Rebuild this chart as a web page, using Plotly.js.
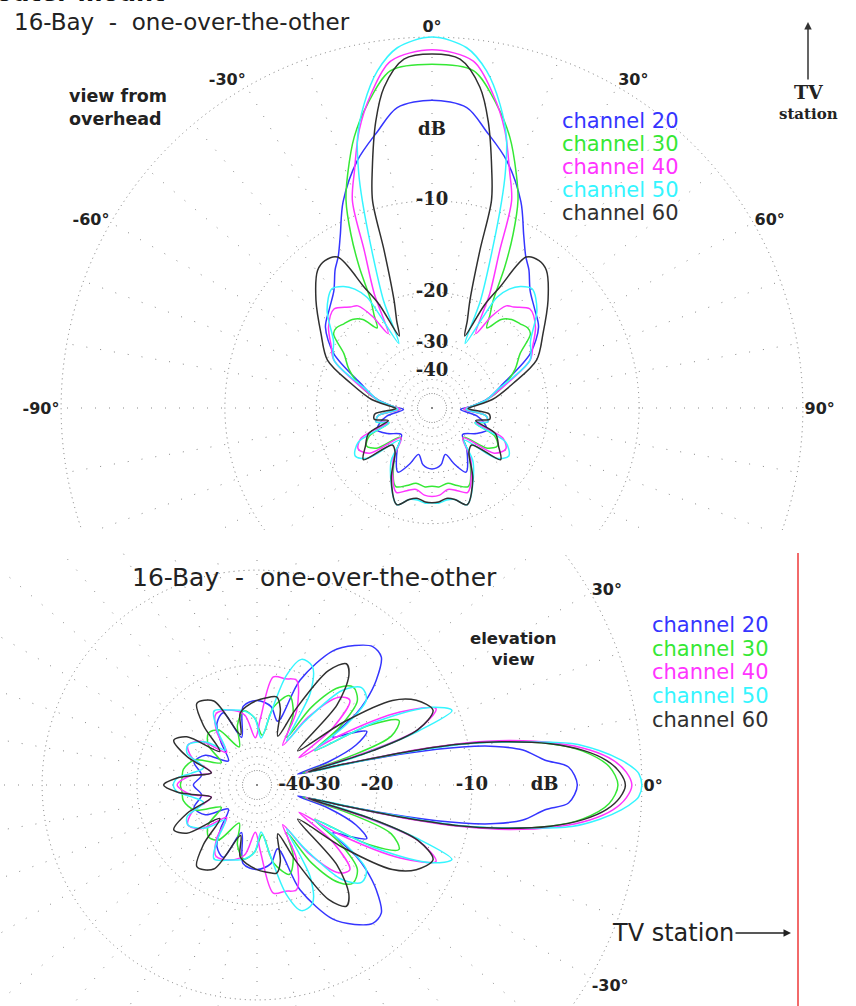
<!DOCTYPE html>
<html><head><meta charset="utf-8">
<script src="https://cdn.plot.ly/plotly-3.0.1.min.js"></script>
<style>
html,body{margin:0;padding:0;background:#fff;overflow:hidden;width:856px;height:1006px;}
#topWrap{position:absolute;left:0;top:0;width:856px;height:530px;overflow:hidden;}
#topPlot{position:absolute;left:0;top:0;width:856px;height:800px;}
#botWrap{position:absolute;left:0;top:553px;width:797px;height:453px;overflow:hidden;border-right:2px solid #f26a6a;}
#botPlot{position:absolute;left:-140px;top:-200px;width:960px;height:840px;}
</style></head><body>
<div id="topWrap"><div id="topPlot"></div></div>
<div id="botWrap"><div id="botPlot"></div></div>
<script>
// ---------- series ----------
const CH_NAMES = ['channel 20','channel 30','channel 40','channel 50','channel 60'];
const CH_COLORS = ['#3535ff','#35e835','#ff35ff','#35f5ff','#303030'];

// Azimuth (view from overhead), half pattern 0..180 deg, dB
const AZ20_DEG = [0,6.6,11.1,16.8,23.3,28,31.8,35,39.9,46,52.8,61,71,80,88,93,100,106,112,120,131,140,152,158,164,171,180];
const AZ20_DB  = [-3.2,-3.5,-4.7,-6.2,-8.6,-11,-12.6,-13.5,-15.2,-16.4,-17.5,-20.5,-27.3,-32,-39,-44,-36,-33,-31.5,-34,-38,-33,-28,-31,-35,-32,-31];
const AZ30_DEG = [0,7,12,16,19.8,22.5,25,27.3,29.6,32,34.4,38,42,46.3,50,53,58.3,65,74,82,88,92,98,104,109,114,120,126,133,142,155,162,168,175,180];
const AZ30_DB  = [-1.3,-1.5,-3.05,-4.7,-6.85,-8.6,-11.3,-14.6,-18.8,-21,-23,-20.5,-19.5,-19.1,-18.7,-18.9,-21.9,-24,-28,-33,-39,-42,-33,-32,-36,-29,-27.3,-29,-37,-31,-25,-26,-27,-26.5,-26.7];
const AZ40_DEG = [0,6.8,11,14.7,18.1,21,23.3,26.8,30.5,33,36,39,44.7,51.9,58,64,74,82,88,92,98,104,108,113,119,126,134,143,157,163,169,175,180];
const AZ40_DB  = [-0.6,-1.03,-2.55,-4.4,-6.8,-8.8,-13.3,-18.25,-25,-21,-18.5,-18,-16.8,-17.8,-19.5,-21,-28,-33,-39,-42,-33,-32,-36,-27,-25.4,-27,-37,-30,-24,-25,-25.7,-24.8,-24.6];
const AZ50_DEG = [0,5.5,9.2,12.6,15.4,17.3,18.6,20.9,24.3,27.2,30.4,33,36,40,47,55.8,64,74.6,82,88,92,98,104,109,115,122,128,135,143,160,166,171,176,180];
const AZ50_DB  = [0,-0.42,-1.42,-3.0,-4.8,-7,-9.1,-13.5,-19.7,-28,-18.2,-16.5,-15.5,-14.9,-16.3,-19.5,-21,-29.2,-33,-39,-41,-33,-32,-36,-26,-24.2,-26,-36,-29,-22,-23.5,-23.7,-23.3,-23.4];
const AZ60_DEG = [0,4.6,8.5,11.1,14.1,16,16.9,19.4,22,24.5,27,29.3,32,36,39.7,47.1,56.1,65.4,73.1,82,88,91,96,101,106,112,120,127,133,140,150,160,166,171,176,180];
const AZ60_DB  = [-0.8,-1.0,-2.3,-4.1,-7.1,-9.3,-13.9,-20.2,-23.5,-26.5,-20,-16.9,-12.6,-12.2,-12.5,-14.6,-17.5,-20.1,-25.3,-31,-38,-40,-32,-31.6,-36,-29,-27,-25.1,-33,-32,-26,-22,-23.5,-24,-23.5,-23.4];

// Elevation view, half pattern 0..180 deg, dB
const EL20_DEG = [0,3.3,4.9,7.5,9.2,10.5,12,13.5,15,18,22,26,29,32.3,35.7,37.8,41.3,45.8,50.1,55,60.5,67.7,72,80,90,100,108,115,123,130,140,150,160,170,180];
const EL20_DB  = [-3.15,-3.6,-4.9,-6.2,-8,-10.5,-16,-26,-38,-28,-22,-19.7,-22,-25,-19.7,-17.6,-15.2,-13.2,-13.0,-14,-15.7,-21,-30,-27,-26,-27,-35,-27,-28.4,-33,-40,-32,-30,-33,-30.9];
const EL30_DEG = [0,3,6,8,10,11.5,12.5,13.5,14.5,17,20,24.4,28,31,35,40,45.6,50,55,58,63,70,78,84,92,100,108,115,125,133,140.8,148,158,168,175,180];
const EL30_DB  = [-1.1,-1.5,-2.8,-4.5,-7.5,-11,-16,-26,-36,-24,-17,-15.5,-19,-30,-23,-18.5,-17.7,-19,-24,-33,-27,-24,-27,-35,-30,-28,-31,-38,-30,-29,-31.1,-38,-30,-28,-28,-27.7];
const EL40_DEG = [0,2,4,6,8,10,11.5,12.5,13.5,14.5,16.5,19,23.1,27,31,33,37,42.4,47,53,57,62,69.3,75,81.4,87,92,100,110,120,127,133,142,150,157,165,172,180];
const EL40_DB  = [-0.45,-0.7,-1.3,-2.4,-4.2,-7,-10.5,-15,-25,-35,-22,-14,-11.7,-15,-24,-35,-24,-19.2,-20,-26,-36,-26,-21.2,-21.5,-21.6,-30,-36,-29,-27,-26.5,-30,-37,-29,-27,-29,-36,-30,-27];
const EL50_DEG = [0,1.75,2.3,3.9,5.7,7.5,9.2,11,12,13,14,16,18.5,20.9,24,28,31,34,38,43,48,53,56,60,65,70.5,75,80,85,92,100,110,120.2,126,132,140,150,155.7,162,170,175,180];
const EL50_DB  = [0,-0.13,-0.27,-0.9,-1.9,-3.3,-6.15,-9.8,-14,-22,-33,-22,-14,-10.5,-12,-18,-30,-22,-17.5,-17,-19,-27,-34,-22,-18.5,-18.2,-21,-30,-36,-30,-28,-27,-25.8,-30,-36,-30,-27,-27.7,-33,-30,-27,-26.2];
const EL60_DEG = [0,2,4,6,8,10,11.5,12.5,13.5,14.5,16.5,19,23,28,32,36,40,45,50,53.6,58,63,67,73,77.4,85,90,97,103.3,108,117.2,126.4,132,138,145.5,151.7,158,165,172,175,180];
const EL60_DB  = [-0.75,-1.0,-1.6,-2.7,-4.5,-7.5,-11,-16,-25,-34,-20,-14,-12,-13,-15.1,-22,-34,-21,-17,-16.1,-18,-26,-34,-27,-24.9,-25.5,-26,-27,-28.4,-34,-24.1,-22.9,-27,-35,-25.9,-24.1,-28,-36,-30,-26.9,-24.3];

// grid / tick labels
const RING_DB = [0,-10,-20,-30,-40,-50];
const RADIAL_LABEL_DB = [-5,-10,-20,-30,-40];
const RADIAL_LABEL_TXT = ['dB','-10','-20','-30','-40'];
const TOP_ANG_LABELS = {0:'0°',30:'30°',60:'60°',90:'90°',270:'-90°',300:'-60°',330:'-30°'};
const BOT_ANG_LABELS = {0:'0°',30:'30°',330:'-30°'};

// ---------- helpers ----------
function arrl(db){ return Math.pow(0.89, -db/2); }   // ARRL log radial scale
function mirror(deg, db){
  const t=[], r=[];
  for(let i=deg.length-1;i>0;i--){ t.push(-deg[i]); r.push(db[i]); }
  for(let i=0;i<deg.length;i++){ t.push(deg[i]); r.push(db[i]); }
  return {t, r};
}
const ANG_TICKS = []; for(let a=0;a<360;a+=10) ANG_TICKS.push(a);

function patternTraces(sets){
  return sets.map((s,i)=>{
    const m = mirror(s[0], s[1]);
    return {type:'scatterpolar', mode:'lines', theta:m.t, r:m.r.map(arrl),
      line:{color:CH_COLORS[i], width:1.5, shape:'spline', smoothing:0.9}, hoverinfo:'skip', showlegend:false};
  });
}
function labelTrace(){
  return {type:'scatterpolar', mode:'text', theta:RADIAL_LABEL_DB.map(()=>0),
    r:RADIAL_LABEL_DB.map(arrl), text:RADIAL_LABEL_TXT, hoverinfo:'skip', showlegend:false,
    textfont:{family:'DejaVu Serif', size:18, color:'#222', weight:'bold'}};
}
function polarCfg(domain, rotation, direction, labels){
  return {
    domain: domain, bgcolor:'rgba(0,0,0,0)',
    radialaxis:{range:[0,1.003], tickmode:'array', tickvals:RING_DB.map(arrl), ticktext:RING_DB.map(()=>''),
      showticklabels:false, ticks:'', showline:false, gridcolor:'#777', gridwidth:1, griddash:'1px,4px'},
    angularaxis:{rotation:rotation, direction:direction, tickmode:'array', tickvals:ANG_TICKS,
      ticktext:ANG_TICKS.map(a => labels[a] || ''),
      ticks:'', showline:false, gridcolor:'#888', gridwidth:1, griddash:'1px,13px',
      tickfont:{family:'DejaVu Sans', size:16, color:'#222', weight:'bold'}}
  };
}

// ---------- top chart (azimuth) ----------
const TW=856, TH=800;
function tp(x,y){ return {x:x/TW, y:1-y/TH}; }
function tAnn(x,y,text,opt){ const p=tp(x,y); return Object.assign({xref:'paper',yref:'paper',x:p.x,y:p.y,text:text,showarrow:false}, opt); }

const topTraces = patternTraces([[AZ20_DEG,AZ20_DB],[AZ30_DEG,AZ30_DB],[AZ40_DEG,AZ40_DB],[AZ50_DEG,AZ50_DB],[AZ60_DEG,AZ60_DB]]);
topTraces.push(labelTrace());

const topAnn = [
  tAnn(-6,9,'outer mount',{xanchor:'left',yanchor:'bottom',font:{family:'DejaVu Sans',size:24,color:'#111',weight:'bold'}}),
  tAnn(12,22,'16-Bay\u00a0\u00a0-\u00a0\u00a0one-over-the-other',{xanchor:'left',yanchor:'middle',font:{family:'DejaVu Sans',size:23,color:'#222'}}),
  tAnn(67,107,'view from<br>overhead',{xanchor:'left',yanchor:'middle',align:'left',font:{family:'DejaVu Sans',size:17.5,color:'#222',weight:'bold'}}),
];
const topLegY = [121,144,167,190,213];
CH_NAMES.forEach((n,i)=>topAnn.push(tAnn(560,topLegY[i],n,{xanchor:'left',yanchor:'middle',font:{family:'DejaVu Sans',size:21,color:CH_COLORS[i]}})));
(function(){ const h=tp(808,22);
  topAnn.push({xref:'paper',yref:'paper',x:h.x,y:h.y,ax:0,ay:80,showarrow:true,arrowhead:2,arrowsize:1,arrowwidth:1.5,arrowcolor:'#333',
    text:'<span style="font-size:19px">TV</span><br>station',font:{family:'DejaVu Serif',size:15,color:'#222',weight:'bold'}});
})();

Plotly.newPlot('topPlot', topTraces, {
  width:TW, height:TH, margin:{l:0,r:0,t:0,b:0}, paper_bgcolor:'#fff', showlegend:false,
  polar: polarCfg({x:[60/TW,804/TW], y:[20/TH,764/TH]}, 90, 'clockwise', TOP_ANG_LABELS),
  annotations: topAnn
}, {staticPlot:true});

// ---------- bottom chart (elevation) ----------
const BW=960, BH=840, BX0=-140, BY0=353;   // div origin in page pixels
function bp(x,y){ return {x:(x-BX0)/BW, y:1-(y-BY0)/BH}; }
function bAnn(x,y,text,opt){ const p=bp(x,y); return Object.assign({xref:'paper',yref:'paper',x:p.x,y:p.y,text:text,showarrow:false}, opt); }

const botTraces = patternTraces([[EL20_DEG,EL20_DB],[EL30_DEG,EL30_DB],[EL40_DEG,EL40_DB],[EL50_DEG,EL50_DB],[EL60_DEG,EL60_DB]]);
botTraces.push(labelTrace());

const botAnn = [
  bAnn(130,578,'16-Bay\u00a0\u00a0-\u00a0\u00a0one-over-the-other',{xanchor:'left',yanchor:'middle',font:{family:'DejaVu Sans',size:25,color:'#222'}}),
  bAnn(513,649,'elevation<br>view',{xanchor:'center',yanchor:'middle',font:{family:'DejaVu Sans',size:16.5,color:'#222',weight:'bold'}}),
];
const botLegY = [625,649,672,696,720];
CH_NAMES.forEach((n,i)=>botAnn.push(bAnn(650,botLegY[i],n,{xanchor:'left',yanchor:'middle',font:{family:'DejaVu Sans',size:21,color:CH_COLORS[i]}})));
(function(){ const h=bp(791,933);
  botAnn.push({xref:'paper',yref:'paper',x:h.x,y:h.y,ax:-118,ay:0,showarrow:true,arrowhead:2,arrowsize:1,arrowwidth:1.5,arrowcolor:'#222',
    text:'TV station',font:{family:'DejaVu Sans',size:24,color:'#222'}});
})();

Plotly.newPlot('botPlot', botTraces, {
  width:BW, height:BH, margin:{l:0,r:0,t:0,b:0}, paper_bgcolor:'#fff', showlegend:false,
  polar: polarCfg({x:[11/BW,783/BW], y:[22/BH,794/BH]}, 0, 'counterclockwise', BOT_ANG_LABELS),
  annotations: botAnn
}, {staticPlot:true});
</script></body></html>
